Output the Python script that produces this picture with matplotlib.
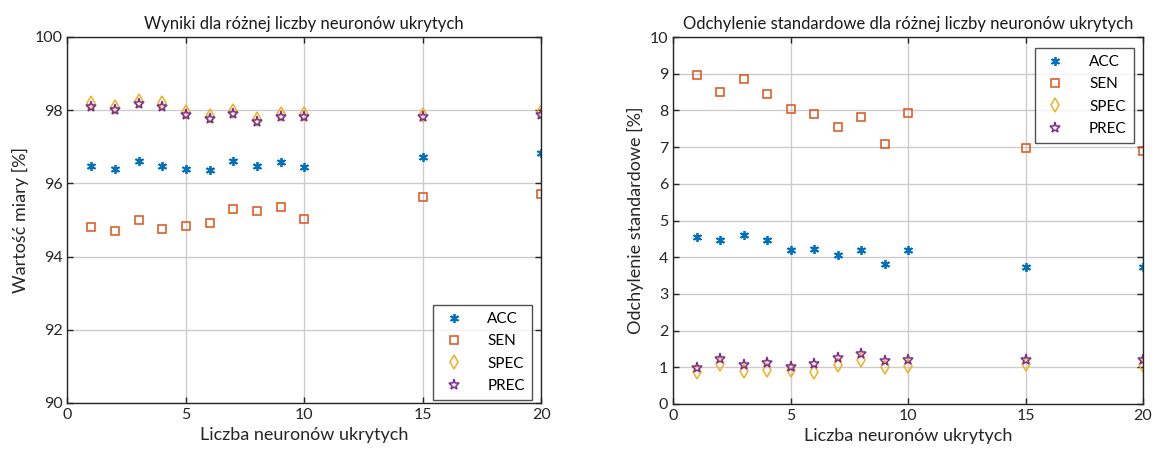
import numpy as np
import matplotlib
matplotlib.use("Agg")
from matplotlib import pyplot as plt

# liczba neuronow ukrytych
neurons = [1, 2, 3, 4, 5, 6, 7, 8, 9, 10, 15, 20]

# wyniki [%]
acc = [96.48, 96.39, 96.61, 96.47, 96.39, 96.37, 96.61, 96.48, 96.59, 96.45, 96.73, 96.82]
sen = [94.81, 94.71, 95.01, 94.76, 94.84, 94.92, 95.29, 95.25, 95.35, 95.03, 95.63, 95.70]
spec = [98.19, 98.10, 98.24, 98.19, 97.96, 97.84, 97.98, 97.77, 97.89, 97.90, 97.88, 97.95]
prec = [98.10, 98.01, 98.16, 98.10, 97.88, 97.75, 97.90, 97.69, 97.80, 97.81, 97.80, 97.87]

# odchylenie standardowe [%]
acc_std = [4.56, 4.48, 4.60, 4.46, 4.20, 4.22, 4.07, 4.21, 3.81, 4.19, 3.74, 3.74]
sen_std = [8.96, 8.51, 8.87, 8.45, 8.03, 7.89, 7.54, 7.82, 7.08, 7.93, 6.98, 6.89]
spec_std = [0.88, 1.10, 0.89, 0.92, 0.92, 0.86, 1.05, 1.21, 1.01, 1.04, 1.08, 1.05]
prec_std = [0.97, 1.22, 1.05, 1.13, 1.02, 1.08, 1.24, 1.37, 1.16, 1.21, 1.20, 1.21]

plt.rcParams['font.family'] = ['Lato', 'DejaVu Sans']

colors = ['#0072BD', '#D95319', '#EDB120', '#7E2F8E']
markers = [(6, 2, 0), 's', 'd', '*']
sizes = [6.5, 5.5, 7, 8]
names = ['ACC', 'SEN', 'SPEC', 'PREC']
edge = '#262626'

fig = plt.figure(figsize=(11.57, 4.53), dpi=100)
ax1 = fig.add_axes([0.0583, 0.1104, 0.4094, 0.808])
ax2 = fig.add_axes([0.5817, 0.1082, 0.4062, 0.810])


def draw(ax, series, title, ylabel, ylim, yticks, loc, anchor):
    for vals, c, m, s, n in zip(series, colors, markers, sizes, names):
        if m == (6, 2, 0):
            ax.plot(neurons, vals, linestyle='none', marker=m, markersize=s,
                    color=c, markeredgewidth=1.3, label=n)
        else:
            ax.plot(neurons, vals, linestyle='none', marker=m, markersize=s,
                    markerfacecolor='none', markeredgecolor=c,
                    markeredgewidth=1.1, label=n)
    ax.set_xlim(0, 20)
    ax.set_ylim(*ylim)
    ax.set_xticks([0, 5, 10, 15, 20])
    ax.set_yticks(yticks)
    ax.grid(True, color='#cccccc', linewidth=1.0)
    ax.set_axisbelow(True)
    for sp in ax.spines.values():
        sp.set_color(edge)
        sp.set_linewidth(1.0)
    ax.tick_params(direction='in', length=4, width=1.0, colors=edge,
                   labelsize=11.5, top=True, right=True, labelcolor='#262626')
    ax.set_title(title, fontsize=12, color='#1a1a1a', pad=6)
    ax.set_xlabel('Liczba neuronów ukrytych', fontsize=13, color='#262626')
    ax.set_ylabel(ylabel, fontsize=13, color='#262626')
    leg = ax.legend(loc=loc, bbox_to_anchor=anchor, fontsize=11,
                    frameon=True, fancybox=False, borderpad=0.45,
                    labelspacing=0.55, handletextpad=1.3, handlelength=1.8,
                    borderaxespad=0)
    leg.get_frame().set_edgecolor(edge)
    leg.get_frame().set_linewidth(1.0)


draw(ax1, [acc, sen, spec, prec], 'Wyniki dla różnej liczby neuronów ukrytych',
     'Wartość miary [%]', (90, 100), [90, 92, 94, 96, 98, 100],
     'lower right', (0.98, 0.008))
draw(ax2, [acc_std, sen_std, spec_std, prec_std],
     'Odchylenie standardowe dla różnej liczby neuronów ukrytych',
     'Odchylenie standardowe [%]', (0, 10), list(range(0, 11)),
     'upper right', (0.98, 0.97))

fig.savefig('out.png', dpi=100)
